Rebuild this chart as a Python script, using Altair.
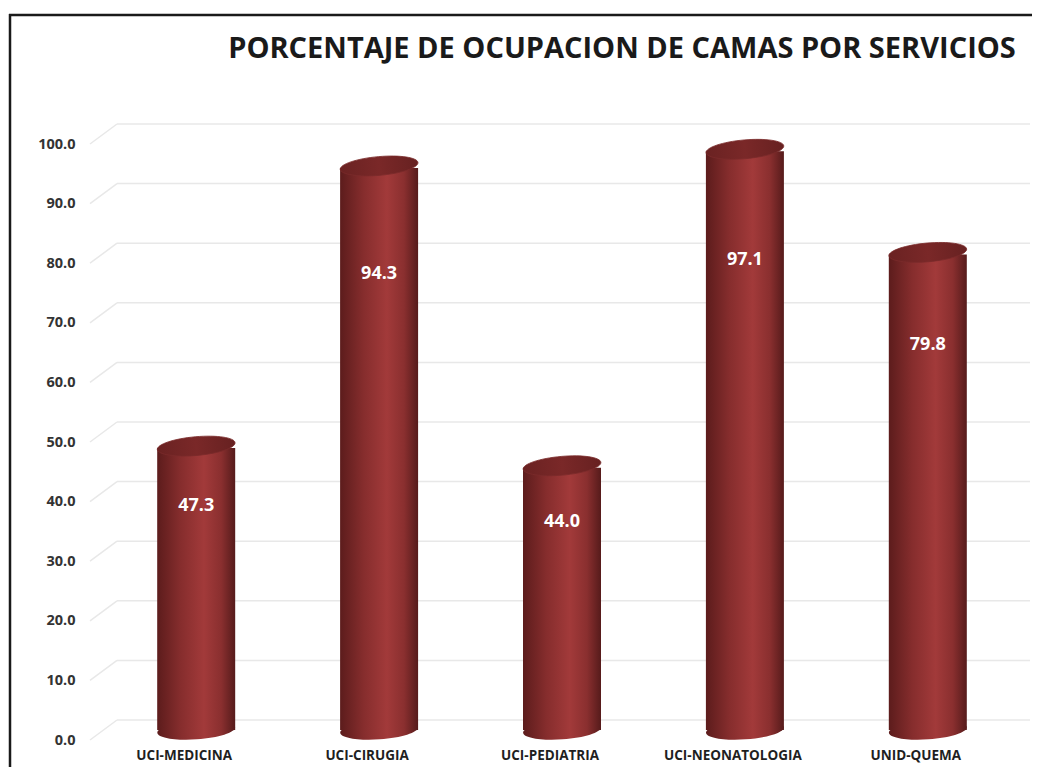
import altair as alt
import pandas as pd

# ---- data ----
categories = ["UCI-MEDICINA", "UCI-CIRUGIA", "UCI-PEDIATRIA", "UCI-NEONATOLOGIA", "UNID-QUEMA"]
values = [47.3, 94.3, 44.0, 97.1, 79.8]
grid_values = [0, 10, 20, 30, 40, 50, 60, 70, 80, 90, 100]
title_text = "PORCENTAJE DE OCUPACION DE CAMAS POR SERVICIOS"

df = pd.DataFrame({"servicio": categories, "valor": values})
gdf = pd.DataFrame({"g": grid_values})
one_df = pd.DataFrame({"t": [title_text]})

W, H = 920, 596
FONT = "Open Sans"

yscale = alt.Scale(domain=[0, 100], nice=False, zero=True)
xscale = alt.Scale(domain=categories, paddingInner=0.57, paddingOuter=0.3)

x_enc = alt.X(
    "servicio:N", sort=categories, scale=xscale,
    axis=alt.Axis(title=None, labelAngle=0, labelFont=FONT, labelFontWeight="bold",
                  labelFontSize=13.5, labelColor="#1f1f1f", labelPadding=8,
                  ticks=False, domain=False, grid=False),
)

cyl = alt.Gradient(
    gradient="linear",
    stops=[
        alt.GradientStop(color="#5c1c1c", offset=0),
        alt.GradientStop(color="#862d2d", offset=0.3),
        alt.GradientStop(color="#a23a3a", offset=0.6),
        alt.GradientStop(color="#8a2f2f", offset=0.82),
        alt.GradientStop(color="#561b1b", offset=1),
    ],
    x1=0, x2=1, y1=0, y2=0,
)
top_grad = alt.Gradient(
    gradient="linear",
    stops=[
        alt.GradientStop(color="#6a2222", offset=0),
        alt.GradientStop(color="#7a2828", offset=0.5),
        alt.GradientStop(color="#672121", offset=1),
    ],
    x1=0, x2=1, y1=0, y2=0,
)
ellipse = "M-1,0A1,0.24,0,1,0,1,0A1,0.24,0,1,0,-1,0Z"

# back-wall gridlines (perspective) -- carries the y axis
grid_back = alt.Chart(gdf).mark_rule(color="#e8e8e8", strokeWidth=1.5, yOffset=-20, y2Offset=-20).encode(
    y=alt.Y("g:Q", scale=yscale,
            axis=alt.Axis(title=None, values=grid_values, format=".1f", labelFont=FONT,
                          labelFontWeight="bold", labelFontSize=14.5, labelColor="#333333",
                          labelPadding=15, ticks=False, domain=False, grid=False)),
    y2=alt.Y2("g:Q"),
    x=alt.value(27), x2=alt.value(940),
)
grid_side = alt.Chart(gdf).mark_rule(color="#e8e8e8", strokeWidth=1.5, y2Offset=-20).encode(
    y=alt.Y("g:Q", scale=yscale),
    y2=alt.Y2("g:Q"),
    x=alt.value(0), x2=alt.value(27),
)

base = alt.Chart(df)

bottom = base.mark_point(shape=ellipse, size=6084, filled=True, fill=cyl, opacity=1,
                         xOffset=12, yOffset=-10, angle=356).encode(
    x=x_enc,
    y=alt.Y("zero:Q", scale=yscale),
).transform_calculate(zero="0")

bars = base.mark_bar(size=78, fill=cyl, xOffset=12, yOffset=-10, y2Offset=-10).encode(
    x=x_enc,
    y=alt.Y("valor:Q", scale=yscale),
    y2=alt.datum(0),
)

top = base.mark_point(shape=ellipse, size=6084, filled=True, fill=top_grad, opacity=1,
                      stroke="#7a2a2a", strokeWidth=0.8,
                      xOffset=12, yOffset=-12, angle=355).encode(
    x=x_enc,
    y=alt.Y("valor:Q", scale=yscale),
)

labels = base.mark_text(color="white", font=FONT, fontWeight="bold", fontSize=18,
                        xOffset=12).encode(
    x=x_enc,
    y=alt.Y("lab:Q", scale=yscale),
    text=alt.Text("valor:Q", format=".1f"),
).transform_calculate(lab="datum.valor * 0.83")

title = alt.Chart(one_df).mark_text(font=FONT, fontSize=29, fontWeight="bold", color="#1a1a1a",
                                    align="center", baseline="alphabetic").encode(
    x=alt.value(532), y=alt.value(-86), text="t:N",
)

# picture frame: only its left and top edges fall inside the picture
frame_left = alt.Chart(one_df).mark_rule(color="#1a1a1a", strokeWidth=2.5).encode(
    x=alt.value(-80), y=alt.value(-130), y2=alt.value(631),
)
frame_top = alt.Chart(one_df).mark_rule(color="#1a1a1a", strokeWidth=2.5).encode(
    x=alt.value(-81), x2=alt.value(942), y=alt.value(-129),
)

chart = alt.layer(grid_back, grid_side, bottom, bars, top, labels, title,
                  frame_left, frame_top).properties(
    width=W, height=H,
    autosize=alt.AutoSizeParams(type="none"),
    padding={"left": 82, "top": 136, "right": 22, "bottom": 27},
    background="white",
).configure_view(stroke=None)

chart.save("out.html", embed_options={"renderer": "svg", "actions": False})
